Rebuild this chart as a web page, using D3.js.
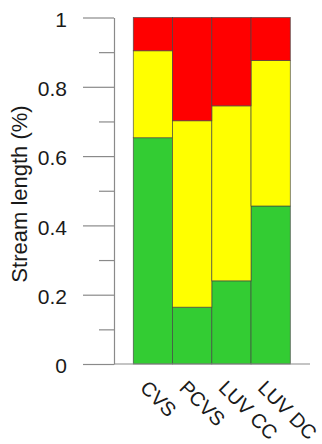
<!DOCTYPE html>
<html>
<head>
<meta charset="utf-8">
<script src="https://cdn.jsdelivr.net/npm/d3@7"></script>
<style>
  html, body { margin: 0; padding: 0; background: #fff; }
  svg { display: block; font-family: "Liberation Sans", Arial, sans-serif; }
</style>
</head>
<body>
<svg id="chart" width="322" height="444"></svg>
<script>
// Share of stream length by condition class, per survey
const categories = ["CVS", "PCVS", "LUV CC", "LUV DC"];
const goodShare = [0.653, 0.164, 0.240, 0.456];
const moderateShare = [0.251, 0.538, 0.505, 0.420];
const poorShare = [0.096, 0.298, 0.255, 0.124];
const majorTicks = [0, 0.2, 0.4, 0.6, 0.8, 1];
const minorTicks = [0.1, 0.3, 0.5, 0.7, 0.9];
const tickLabels = ["0", "0.2", "0.4", "0.6", "0.8", "1"];
const yTitle = "Stream length (%)";

const keys = ["good", "moderate", "poor"];
const colors = { good: "#33CC33", moderate: "#FFFF00", poor: "#FF0000" };

const rows = categories.map((c, i) => ({
  cat: c, good: goodShare[i], moderate: moderateShare[i], poor: poorShare[i]
}));

const svg = d3.select("#chart");
const axisX = 114, plotBottom = 364, plotTop = 17.5;
const barLeft = 133.3, barRight = 290.3, baseRight = 310;

const y = d3.scaleLinear().domain([0, 1]).range([plotBottom, plotTop]);
const x = d3.scaleBand().domain(categories).range([barLeft, barRight]).padding(0);

const series = d3.stack().keys(keys)(rows);

// stacked bars
svg.append("g").selectAll("g")
  .data(series).join("g")
  .attr("fill", d => colors[d.key])
  .selectAll("rect")
  .data(d => d).join("rect")
  .attr("x", d => x(d.data.cat))
  .attr("width", x.bandwidth())
  .attr("y", d => y(d[1]))
  .attr("height", d => y(d[0]) - y(d[1]))
  .attr("stroke", "#444")
  .attr("stroke-opacity", 0.8)
  .attr("stroke-width", 0.8);

// baseline under the bars
svg.append("line")
  .attr("x1", axisX).attr("x2", baseRight)
  .attr("y1", y(0)).attr("y2", y(0))
  .attr("stroke", "#8a8a8a").attr("stroke-width", 1.2);

// y axis: major ticks with labels
const yAxis = d3.axisLeft(y)
  .tickValues(majorTicks)
  .tickFormat((d, i) => tickLabels[i])
  .tickSize(31).tickSizeOuter(0).tickPadding(16);

const gy = svg.append("g")
  .attr("transform", `translate(${axisX},0)`)
  .call(yAxis);
gy.select(".domain").attr("stroke", "#8a8a8a").attr("stroke-width", 1.2);
gy.selectAll(".tick line").attr("stroke", "#8a8a8a").attr("stroke-width", 1.2);
gy.selectAll(".tick text")
  .attr("font-size", 21).attr("fill", "#1a1a1a")
  .attr("dy", "0.42em")
  .style("font-family", "Liberation Sans, Arial, sans-serif");

// minor ticks
const yMinor = d3.axisLeft(y).tickValues(minorTicks).tickFormat("")
  .tickSize(15).tickSizeOuter(0);
const gm = svg.append("g")
  .attr("transform", `translate(${axisX},0)`)
  .call(yMinor);
gm.select(".domain").remove();
gm.selectAll(".tick line").attr("stroke", "#8a8a8a").attr("stroke-width", 1.2);

// y title
svg.append("text")
  .attr("transform", `translate(27,194) rotate(-90)`)
  .attr("text-anchor", "middle")
  .attr("font-size", 22)
  .attr("fill", "#1a1a1a")
  .text(yTitle);

// slanted category labels
svg.append("g").selectAll("text")
  .data(categories).join("text")
  .attr("transform", d => `translate(${x(d) + x.bandwidth() / 2 - 14},389) rotate(45)`)
  .attr("text-anchor", "start")
  .attr("font-size", 20)
  .attr("fill", "#1a1a1a")
  .text(d => d);
</script>
</body>
</html>
